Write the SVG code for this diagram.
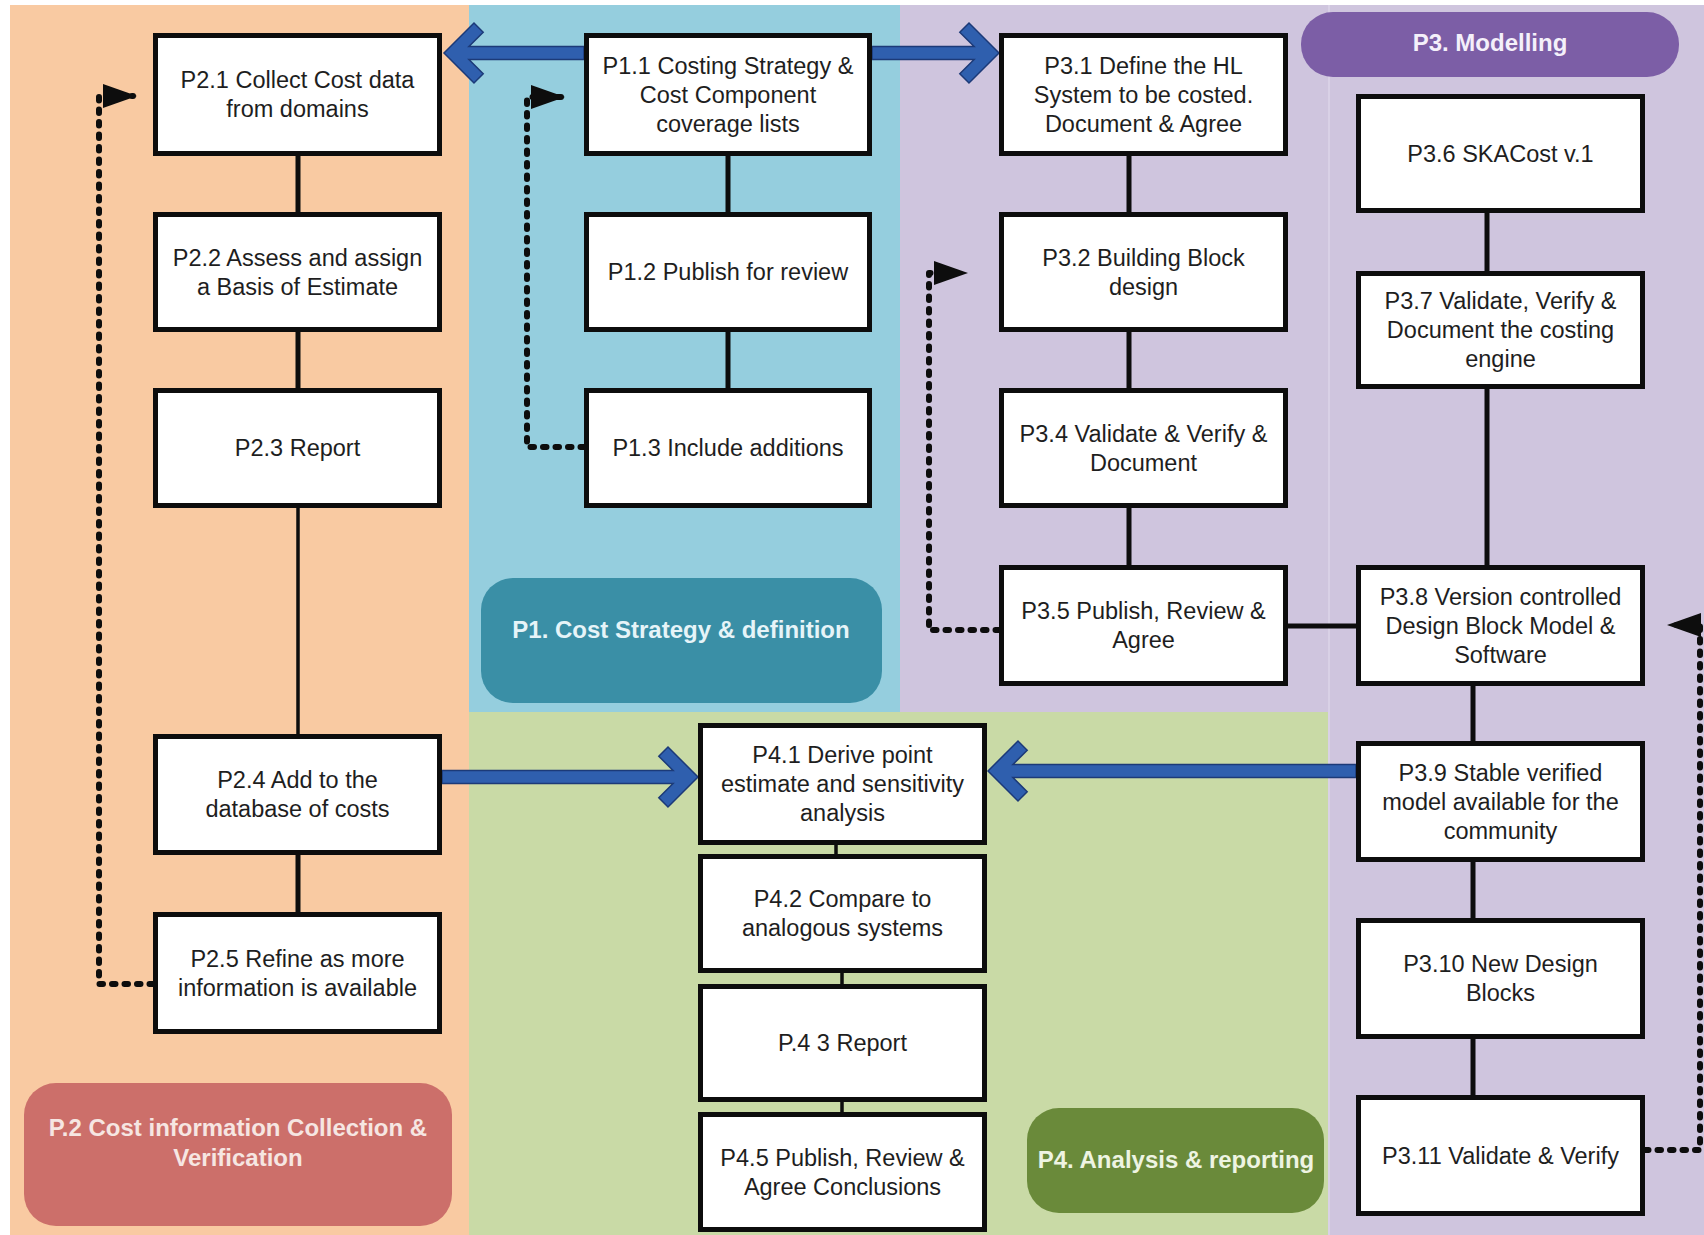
<svg xmlns="http://www.w3.org/2000/svg" width="1704" height="1235" viewBox="0 0 1704 1235">
<style>
.node rect{fill:#ffffff;stroke:#0d0d0d;stroke-width:5}
.node text{font-family:"Liberation Sans",Arial,sans-serif;font-size:23.5px;fill:#1e1e1e;text-anchor:middle}
.lbl text{font-family:"Liberation Sans",Arial,sans-serif;font-size:24px;font-weight:bold;text-anchor:middle}
.solid{stroke:#0d0d0d;stroke-width:5;fill:none}
.thin{stroke:#0d0d0d;stroke-width:3.5;fill:none}
.dot{stroke:#0d0d0d;stroke-width:6;fill:none;stroke-dasharray:3.5 9;stroke-linecap:round;stroke-linejoin:round;marker-end:url(#tri)}
.barrow{fill:#2f5fae;stroke:#1c3a78;stroke-width:1.5;stroke-linejoin:miter}
</style>
<defs>
<marker id="tri" markerUnits="userSpaceOnUse" markerWidth="34" markerHeight="24" viewBox="0 0 34 24" refX="30" refY="12" orient="auto">
<path d="M0,0 L34,12 L0,24 Z" fill="#0d0d0d"/>
</marker>
</defs>
<rect width="1704" height="1235" fill="#ffffff"/>
<g id="panels">
<rect x="10" y="5" width="459" height="1230" fill="#f9caa2"/>
<rect x="469" y="5" width="431" height="707" fill="#95cede"/>
<rect x="900" y="5" width="804" height="1230" fill="#cfc5de"/>
<rect x="469" y="712" width="859" height="523" fill="#c9daa6"/>
<line x1="1329" y1="5" x2="1329" y2="712" stroke="#d9d1e6" stroke-width="2"/>
<line x1="1329" y1="712" x2="1329" y2="1235" stroke="#d9d1e6" stroke-width="2"/>
</g>
<g id="label-p1" class="lbl"><rect x="481" y="578" width="401" height="125" rx="32" fill="#3a8fa6"/><text x="681" y="638" fill="#e6f4f8">P1. Cost Strategy &amp; definition</text></g>
<g id="label-p2" class="lbl"><rect x="24" y="1083" width="428" height="143" rx="32" fill="#cc6f6a"/><text x="238" y="1136" fill="#f6e6e2">P.2 Cost information Collection &amp;</text><text x="238" y="1166" fill="#f6e6e2">Verification</text></g>
<g id="label-p3" class="lbl"><rect x="1301" y="12" width="378" height="65" rx="32" fill="#7c5ea6"/><text x="1490" y="51" fill="#f4f0fa">P3. Modelling</text></g>
<g id="label-p4" class="lbl"><rect x="1027" y="1108" width="297" height="105" rx="32" fill="#6a8a3a"/><text x="1176" y="1168" fill="#eef4e2">P4. Analysis &amp; reporting</text></g>
<g id="connectors">
<path class="solid" d="M298,156 V212 M298,332 V388 M298,855 V912"/>
<path class="thin" d="M298,508 V734"/>
<path class="solid" d="M728,156 V212 M728,332 V388"/>
<path class="solid" d="M1129,156 V212 M1129,332 V388 M1129,508 V565 M1288,626 H1356"/>
<path class="solid" d="M1487,213 V271 M1487,389 V565"/>
<path class="solid" d="M1473,686 V741 M1473,862 V918 M1473,1039 V1095"/>
<path class="thin" d="M836,845 V854 M842,973 V984 M842,1102 V1112"/>
<path class="dot" d="M153,984 H99 V96 H133"/>
<path class="dot" d="M584,447 H527 V97 H561"/>
<path class="dot" d="M999,630 H929 V273 H964"/>
<path class="dot" d="M1645,1150 H1700 V625 H1671"/>
<polygon class="barrow" points="584,46.5 468.9,46.5 483.2,32.2 474,23 444,53 474,83 483.2,73.8 468.9,59.5 584,59.5"/>
<polygon class="barrow" points="872,46.5 974.1,46.5 959.8,32.2 969,23 999,53 969,83 959.8,73.8 974.1,59.5 872,59.5"/>
<polygon class="barrow" points="442,770.5 673.1,770.5 658.8,756.2 668,747 698,777 668,807 658.8,797.8 673.1,783.5 442,783.5"/>
<polygon class="barrow" points="1356,764.5 1012.9,764.5 1027.2,750.2 1018,741 988,771 1018,801 1027.2,791.8 1012.9,777.5 1356,777.5"/>
</g>
<g id="p2-1" class="node"><rect x="155.5" y="35.5" width="284" height="118"/><text x="297.5" y="88">P2.1 Collect Cost data</text><text x="297.5" y="117">from domains</text></g>
<g id="p2-2" class="node"><rect x="155.5" y="214.5" width="284" height="115"/><text x="297.5" y="265.5">P2.2 Assess and assign</text><text x="297.5" y="294.5">a Basis of Estimate</text></g>
<g id="p2-3" class="node"><rect x="155.5" y="390.5" width="284" height="115"/><text x="297.5" y="456">P2.3 Report</text></g>
<g id="p2-4" class="node"><rect x="155.5" y="736.5" width="284" height="116"/><text x="297.5" y="788">P2.4 Add to the</text><text x="297.5" y="817">database of costs</text></g>
<g id="p2-5" class="node"><rect x="155.5" y="914.5" width="284" height="117"/><text x="297.5" y="966.5">P2.5 Refine as more</text><text x="297.5" y="995.5">information is available</text></g>
<g id="p1-1" class="node"><rect x="586.5" y="35.5" width="283" height="118"/><text x="728" y="73.5">P1.1 Costing Strategy &amp;</text><text x="728" y="102.5">Cost Component</text><text x="728" y="131.5">coverage lists</text></g>
<g id="p1-2" class="node"><rect x="586.5" y="214.5" width="283" height="115"/><text x="728" y="280">P1.2 Publish for review</text></g>
<g id="p1-3" class="node"><rect x="586.5" y="390.5" width="283" height="115"/><text x="728" y="456">P1.3 Include additions</text></g>
<g id="p3-1" class="node"><rect x="1001.5" y="35.5" width="284" height="118"/><text x="1143.5" y="73.5">P3.1 Define the HL</text><text x="1143.5" y="102.5">System to be costed.</text><text x="1143.5" y="131.5">Document &amp; Agree</text></g>
<g id="p3-2" class="node"><rect x="1001.5" y="214.5" width="284" height="115"/><text x="1143.5" y="265.5">P3.2 Building Block</text><text x="1143.5" y="294.5">design</text></g>
<g id="p3-4" class="node"><rect x="1001.5" y="390.5" width="284" height="115"/><text x="1143.5" y="441.5">P3.4 Validate &amp; Verify &amp;</text><text x="1143.5" y="470.5">Document</text></g>
<g id="p3-5" class="node"><rect x="1001.5" y="567.5" width="284" height="116"/><text x="1143.5" y="619">P3.5 Publish, Review &amp;</text><text x="1143.5" y="648">Agree</text></g>
<g id="p3-6" class="node"><rect x="1358.5" y="96.5" width="284" height="114"/><text x="1500.5" y="161.5">P3.6 SKACost v.1</text></g>
<g id="p3-7" class="node"><rect x="1358.5" y="273.5" width="284" height="113"/><text x="1500.5" y="309">P3.7 Validate, Verify &amp;</text><text x="1500.5" y="338">Document the costing</text><text x="1500.5" y="367">engine</text></g>
<g id="p3-8" class="node"><rect x="1358.5" y="567.5" width="284" height="116"/><text x="1500.5" y="604.5">P3.8 Version controlled</text><text x="1500.5" y="633.5">Design Block Model &amp;</text><text x="1500.5" y="662.5">Software</text></g>
<g id="p3-9" class="node"><rect x="1358.5" y="743.5" width="284" height="116"/><text x="1500.5" y="780.5">P3.9 Stable verified</text><text x="1500.5" y="809.5">model available for the</text><text x="1500.5" y="838.5">community</text></g>
<g id="p3-10" class="node"><rect x="1358.5" y="920.5" width="284" height="116"/><text x="1500.5" y="972">P3.10 New Design</text><text x="1500.5" y="1001">Blocks</text></g>
<g id="p3-11" class="node"><rect x="1358.5" y="1097.5" width="284" height="116"/><text x="1500.5" y="1163.5">P3.11 Validate &amp; Verify</text></g>
<g id="p4-1" class="node"><rect x="700.5" y="725.5" width="284" height="117"/><text x="842.5" y="763">P4.1 Derive point</text><text x="842.5" y="792">estimate and sensitivity</text><text x="842.5" y="821">analysis</text></g>
<g id="p4-2" class="node"><rect x="700.5" y="856.5" width="284" height="114"/><text x="842.5" y="907">P4.2 Compare to</text><text x="842.5" y="936">analogous systems</text></g>
<g id="p4-3" class="node"><rect x="700.5" y="986.5" width="284" height="113"/><text x="842.5" y="1051">P.4 3 Report</text></g>
<g id="p4-5" class="node"><rect x="700.5" y="1114.5" width="284" height="115"/><text x="842.5" y="1165.5">P4.5 Publish, Review &amp;</text><text x="842.5" y="1194.5">Agree Conclusions</text></g>
</svg>
